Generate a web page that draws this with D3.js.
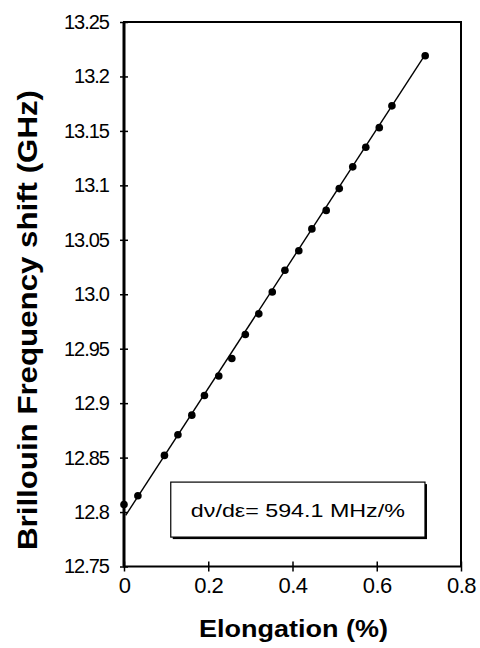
<!DOCTYPE html>
<html>
<head>
<meta charset="utf-8">
<script src="https://cdn.jsdelivr.net/npm/d3@7"></script>
<style>
  body { margin: 0; background: #fff; }
  text { font-family: "Liberation Sans", Arial, sans-serif; fill: #000; }
</style>
</head>
<body>
<svg id="chart"></svg>
<script>
// measured points: elongation (%) vs Brillouin frequency shift (GHz)
const elongation = [0, 0.033, 0.096, 0.128, 0.161, 0.191, 0.225, 0.256, 0.288, 0.320, 0.352,
                    0.382, 0.415, 0.446, 0.480, 0.511, 0.543, 0.574, 0.606, 0.636, 0.715];
const shift = [12.807, 12.815, 12.852, 12.871, 12.889, 12.907, 12.925, 12.941, 12.963, 12.982, 13.002,
               13.022, 13.040, 13.060, 13.077, 13.097, 13.117, 13.135, 13.153, 13.173, 13.219];

// linear fit end points
const fitX = [0.004, 0.715];
const fitY = [12.797, 13.220];

const xTicks = [0, 0.2, 0.4, 0.6, 0.8];
const xTickLabels = ["0", "0.2", "0.4", "0.6", "0.8"];
const yTicks = [12.75, 12.8, 12.85, 12.9, 12.95, 13.0, 13.05, 13.1, 13.15, 13.2, 13.25];
const yTickLabels = ["12.75", "12.8", "12.85", "12.9", "12.95", "13.0", "13.05", "13.1", "13.15", "13.2", "13.25"];

const slopeLabel = "dν/dε= 594.1 MHz/%";

// Set the dimensions and margins of the graph
const margin = { top: 22, right: 19, bottom: 81.5, left: 124 };
const width = 480 - margin.left - margin.right;
const height = 648 - margin.top - margin.bottom;

const svg = d3.select('#chart')
  .attr('width', 480)
  .attr('height', 648)
  .append('g')
  .attr('transform', `translate(${margin.left}, ${margin.top})`);

const x = d3.scaleLinear().domain([0, 0.8]).range([0, width]);
const y = d3.scaleLinear().domain([12.75, 13.25]).range([height, 0]);

// y axis
const yAxis = svg.append('g')
  .call(d3.axisLeft(y).tickValues(yTicks).tickFormat((d, i) => yTickLabels[i]).tickSize(4).tickPadding(11));
yAxis.select('.domain').remove();
yAxis.selectAll('.tick line').attr('x1', 4).attr('x2', -4).attr('stroke-width', 1.5);
yAxis.selectAll('.tick text')
  .style('font-size', '20px')
  .style('letter-spacing', '-1px')
  .style('font-family', '"Liberation Sans", Arial, sans-serif');

// x axis
const xAxis = svg.append('g')
  .attr('transform', `translate(0, ${height})`)
  .call(d3.axisBottom(x).tickValues(xTicks).tickFormat((d, i) => xTickLabels[i]).tickSize(5).tickPadding(6));
xAxis.select('.domain').remove();
xAxis.selectAll('.tick line').attr('y1', -5).attr('y2', 5).attr('stroke-width', 1.5);
xAxis.selectAll('.tick text')
  .style('font-size', '22px')
  .style('letter-spacing', '-0.5px')
  .style('font-family', '"Liberation Sans", Arial, sans-serif');

// frame
svg.append('rect')
  .attr('x', 0).attr('y', 0)
  .attr('width', width).attr('height', height)
  .attr('fill', 'none')
  .attr('stroke', '#000')
  .attr('stroke-width', 2);
svg.append('line')
  .attr('x1', 0).attr('x2', 0).attr('y1', 0).attr('y2', height)
  .attr('stroke', '#000').attr('stroke-width', 3);

// annotation box with shadow
const bx0 = x(0.111), bx1 = x(0.7145), by0 = y(12.8275), by1 = y(12.777);
svg.append('rect')
  .attr('x', bx0 + 2).attr('y', by0 + 2)
  .attr('width', bx1 - bx0).attr('height', by1 - by0)
  .attr('fill', '#000');
svg.append('rect')
  .attr('x', bx0).attr('y', by0)
  .attr('width', bx1 - bx0).attr('height', by1 - by0)
  .attr('fill', '#fff')
  .attr('stroke', '#000')
  .attr('stroke-width', 1.2);
svg.append('text')
  .attr('x', (bx0 + bx1) / 2)
  .attr('y', by0 + 35)
  .attr('text-anchor', 'middle')
  .attr('textLength', 214)
  .attr('lengthAdjust', 'spacingAndGlyphs')
  .style('font-size', '19px')
  .text(slopeLabel);

// fit line
const fit = fitX.map((d, i) => [d, fitY[i]]);
svg.append('path')
  .datum(fit)
  .attr('fill', 'none')
  .attr('stroke', '#000')
  .attr('stroke-width', 1.4)
  .attr('d', d3.line().x(d => x(d[0])).y(d => y(d[1])));

// points
const pts = elongation.map((d, i) => ({ e: d, f: shift[i] }));
svg.selectAll('.dot')
  .data(pts)
  .enter()
  .append('circle')
  .attr('class', 'dot')
  .attr('cx', d => x(d.e))
  .attr('cy', d => y(d.f))
  .attr('r', 3.8)
  .style('fill', '#000');

// axis titles
svg.append('text')
  .attr('x', width / 2 + 1)
  .attr('y', height + 70)
  .attr('text-anchor', 'middle')
  .attr('textLength', 189)
  .attr('lengthAdjust', 'spacingAndGlyphs')
  .style('font-size', '23px')
  .style('font-weight', 'bold')
  .text('Elongation (%)');

svg.append('text')
  .attr('transform', `translate(${37 - margin.left}, ${320 - margin.top}) rotate(-90)`)
  .attr('text-anchor', 'middle')
  .attr('textLength', 460)
  .attr('lengthAdjust', 'spacingAndGlyphs')
  .style('font-size', '27px')
  .style('font-weight', 'bold')
  .text('Brillouin Frequency shift (GHz)');
</script>
</body>
</html>
